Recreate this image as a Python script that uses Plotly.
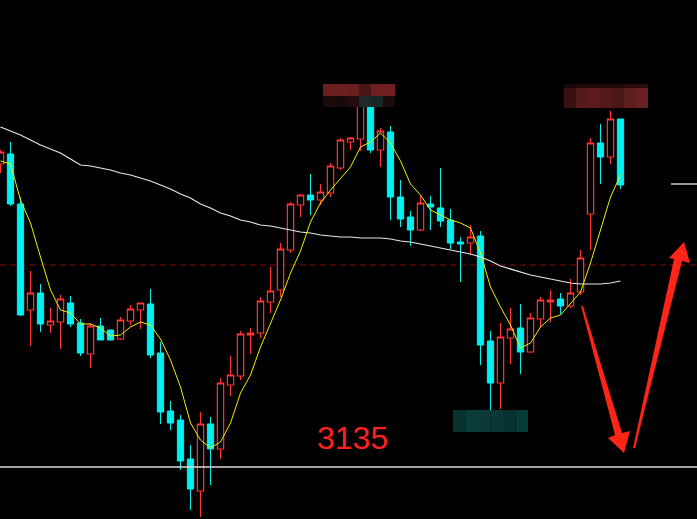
import plotly.graph_objects as go

# Daily index candles (index points)
opens = [3438, 3448, 3398, 3292, 3309, 3277, 3280, 3299, 3279, 3248,
         3276, 3272, 3263, 3281, 3292, 3298, 3249, 3191, 3182, 3143,
         3111, 3178, 3153, 3217, 3226, 3267, 3269, 3300, 3312, 3352,
         3397, 3407, 3402, 3409, 3434, 3460, 3463, 3498, 3452, 3470,
         3405, 3385, 3372, 3398, 3394, 3382, 3360, 3359, 3366, 3261,
         3219, 3264, 3274, 3250, 3283, 3300, 3303, 3296, 3310, 3388,
         3459, 3445, 3483]
highs = [3452, 3460, 3405, 3331, 3318, 3294, 3307, 3306, 3283, 3279,
         3284, 3272, 3285, 3297, 3299, 3313, 3260, 3201, 3187, 3157,
         3190, 3185, 3224, 3246, 3271, 3274, 3305, 3335, 3359, 3400,
         3407, 3428, 3418, 3439, 3464, 3465, 3506, 3502, 3474, 3476,
         3422, 3391, 3406, 3406, 3434, 3393, 3365, 3377, 3371, 3271,
         3279, 3294, 3298, 3289, 3305, 3312, 3309, 3323, 3352, 3464,
         3478, 3491, 3483]
lows = [3429, 3396, 3286, 3256, 3270, 3269, 3253, 3275, 3246, 3234,
        3262, 3262, 3262, 3277, 3273, 3244, 3178, 3172, 3132, 3092,
        3085, 3117, 3143, 3206, 3222, 3248, 3264, 3289, 3305, 3349,
        3385, 3387, 3397, 3405, 3432, 3452, 3451, 3449, 3435, 3382,
        3375, 3356, 3371, 3372, 3375, 3353, 3320, 3347, 3237, 3191,
        3193, 3238, 3228, 3249, 3275, 3280, 3288, 3294, 3307, 3352,
        3418, 3438, 3413]
closes = [3450, 3398, 3287, 3309, 3278, 3281, 3303, 3278, 3249, 3276,
          3262, 3262, 3282, 3293, 3299, 3247, 3190, 3179, 3141, 3113,
          3178, 3153, 3219, 3227, 3268, 3269, 3301, 3311, 3353, 3398,
          3407, 3402, 3410, 3436, 3462, 3464, 3498, 3452, 3471, 3405,
          3383, 3372, 3399, 3395, 3381, 3359, 3358, 3365, 3257, 3219,
          3265, 3273, 3250, 3284, 3302, 3302, 3296, 3309, 3344, 3459,
          3445, 3483, 3417]

# Short moving average (yellow) and long moving average (white)
ma_short = [3441, 3438, 3402, 3379, 3345, 3312, 3292, 3289, 3278, 3278,
            3274, 3266, 3267, 3275, 3280, 3277, 3263, 3242, 3215, 3179,
            3162, 3154, 3160, 3179, 3209, 3227, 3255, 3279, 3302, 3329,
            3351, 3380, 3399, 3412, 3424, 3435, 3455, 3460, 3469, 3459,
            3441, 3418, 3407, 3392, 3387, 3382, 3379, 3374, 3349, 3315,
            3295, 3277, 3254, 3259, 3275, 3284, 3287, 3299, 3310, 3339,
            3372, 3405, 3427]
ma_long = [3475, 3471, 3467, 3462, 3457, 3453, 3449, 3443, 3437, 3436,
           3434, 3432, 3429, 3427, 3424, 3421, 3417, 3413, 3408, 3404,
           3398, 3394, 3389, 3386, 3382, 3380, 3377, 3376, 3374, 3372,
           3370, 3369, 3367, 3366, 3365, 3365, 3364, 3364, 3364, 3363,
           3361, 3360, 3358, 3356, 3354, 3352, 3350, 3348, 3345, 3341,
           3336, 3333, 3330, 3327, 3325, 3323, 3321, 3319, 3318, 3318,
           3318, 3319, 3321]

support_level = 3135
mid_level = 3337
last_marker = 3418
support_label = "3135"

W, H = 697, 519
RED = "#FF3434"
CYAN = "#00F0F0"

idx = list(range(len(closes)))

fig = go.Figure()

fig.add_trace(go.Candlestick(
    x=idx, open=opens, high=highs, low=lows, close=closes,
    increasing=dict(line=dict(color=RED, width=1.2), fillcolor="#000000"),
    decreasing=dict(line=dict(color=CYAN, width=1), fillcolor=CYAN),
    whiskerwidth=0, hoverinfo="skip", showlegend=False,
))

fig.add_trace(go.Scatter(x=idx, y=ma_long, mode="lines",
                         line=dict(color="#E8E8E8", width=1.2),
                         hoverinfo="skip", showlegend=False))
fig.add_trace(go.Scatter(x=idx, y=ma_short, mode="lines",
                         line=dict(color="#F0F000", width=1),
                         hoverinfo="skip", showlegend=False))


def px(x):
    return x / W


def py(y):
    return 1 - y / H


shapes = []

# horizontal reference lines
shapes.append(dict(type="line", xref="paper", yref="y", x0=0, x1=1,
                   y0=mid_level, y1=mid_level,
                   line=dict(color="#8A0A0A", width=1, dash="6px,4px"),
                   layer="below"))
shapes.append(dict(type="line", xref="paper", yref="y", x0=0, x1=1,
                   y0=support_level, y1=support_level,
                   line=dict(color="#DCDCDC", width=1.4)))
shapes.append(dict(type="line", xref="paper", yref="y", x0=px(671), x1=1,
                   y0=last_marker, y1=last_marker,
                   line=dict(color="#DCDCDC", width=1.4)))


def poly(points, color):
    d = "M " + " L ".join(f"{px(x):.5f},{py(y):.5f}" for x, y in points) + " Z"
    return dict(type="path", xref="paper", yref="paper", path=d,
                fillcolor=color, line=dict(width=0))


# red arrows: down then up
shapes.append(poly([(581, 306), (583, 306), (622, 433), (630, 431),
                    (624, 453), (608, 438), (615, 435)], "#FF2418"))
shapes.append(poly([(633, 448), (674, 259), (669, 258), (684, 242),
                    (690, 263), (682, 261), (635, 448)], "#FF2418"))


# pixelated label blocks
def mosaic(x0, y0, cw, rows):
    out = []
    for r, (rh, colors) in enumerate(rows):
        yy = y0 + sum(h for h, _ in rows[:r])
        for c, col in enumerate(colors):
            out.append(dict(type="rect", xref="paper", yref="paper",
                            x0=px(x0 + c * cw), x1=px(x0 + (c + 1) * cw),
                            y0=py(yy + rh), y1=py(yy),
                            fillcolor=col, line=dict(width=0)))
    return out


shapes += mosaic(323, 84, 12, [
    (12, ["#6A1E1E", "#6C1F1F", "#6A1E1E", "#4A1515", "#6E1F1F", "#6F1F1F"]),
    (11, ["#1C0A0A", "#1A0909", "#240C0C", "#1E2A2A", "#1B2525", "#1A0A0A"]),
])
shapes += mosaic(564, 84, 12, [
    (4, ["#1A0808", "#220A0A", "#220A0A", "#220A0A", "#220A0A", "#2A0C0C", "#2A0C0C"]),
    (20, ["#3A1010", "#561A1A", "#5C1C1C", "#531919", "#4C1717", "#5E1E1E", "#682020"]),
])
shapes += mosaic(453, 410, 12.5, [
    (22, ["#083230", "#0A3C3A", "#0B3B39", "#0A3836", "#083230", "#0A3A38"]),
])

fig.update_layout(
    width=W, height=H,
    margin=dict(l=0, r=0, t=0, b=0),
    paper_bgcolor="#000000", plot_bgcolor="#000000",
    boxgap=0.1,
    showlegend=False,
    shapes=shapes,
    annotations=[dict(text=support_label, xref="paper", yref="paper",
                      x=px(352), y=py(438), xanchor="center", yanchor="middle",
                      showarrow=False,
                      font=dict(family="Liberation Sans, Arial", size=32,
                                color="#FF2020"))],
    xaxis=dict(visible=False, range=[-0.05, 69.65], rangeslider=dict(visible=False),
               fixedrange=True),
    yaxis=dict(visible=False, range=[3083, 3602], fixedrange=True),
)

fig.write_html("out.html", config={"displayModeBar": False})
